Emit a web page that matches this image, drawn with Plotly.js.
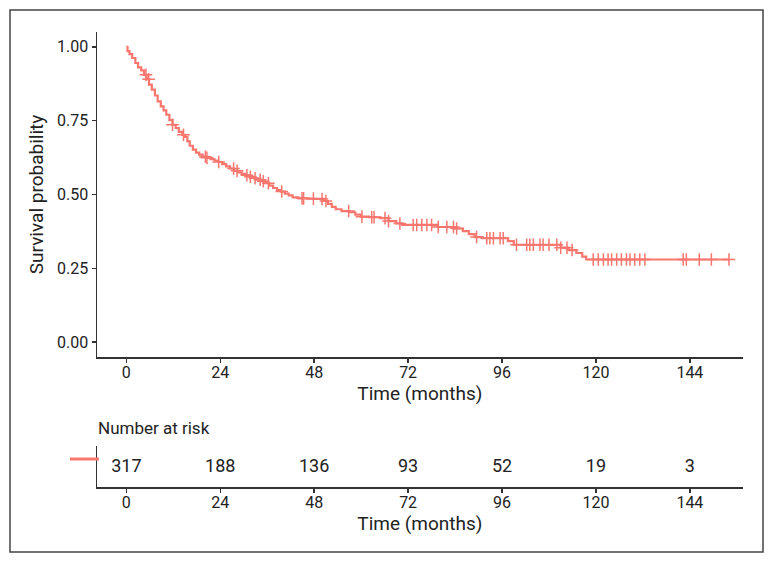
<!DOCTYPE html>
<html>
<head>
<meta charset="utf-8">
<script src="https://cdn.plot.ly/plotly-3.0.1.min.js"></script>
<style>html,body{margin:0;padding:0;background:#fff;}#chart{width:774px;height:564px;}</style>
</head>
<body>
<div id="chart"></div>
<script>
// Kaplan-Meier step points (time in months, survival probability)
const stepTime = [0, 0.3, 0.8, 1.5, 2.3, 3.0, 3.8, 4.5, 5.2, 5.8, 6.5, 7.3, 8.0, 8.8, 9.5, 10.2, 11.0, 11.8, 12.6, 13.4, 14.3, 15.0, 15.6, 16.2, 17.0, 17.8, 18.6, 19.5, 20.5, 21.5, 22.5, 23.5, 24.5, 25.5, 26.5, 27.5, 28.5, 29.5, 30.5, 31.5, 32.5, 33.5, 34.5, 35.5, 36.5, 37.5, 38.5, 39.5, 40.5, 41.5, 42.5, 44.0, 46.0, 48.0, 50.5, 51.5, 52.5, 53.5, 55.0, 57.0, 58.5, 60.0, 62.0, 65.0, 67.0, 69.0, 70.5, 79.5, 84.0, 86.0, 87.5, 89.0, 91.0, 97.5, 99.0, 111.0, 113.0, 115.0, 116.5, 117.5, 154.0];
const stepSurv = [1.0, 0.985, 0.975, 0.962, 0.945, 0.93, 0.92, 0.905, 0.89, 0.872, 0.855, 0.835, 0.815, 0.798, 0.785, 0.77, 0.752, 0.736, 0.725, 0.712, 0.702, 0.695, 0.68, 0.665, 0.652, 0.642, 0.635, 0.628, 0.624, 0.62, 0.615, 0.61, 0.603, 0.595, 0.588, 0.58, 0.575, 0.57, 0.565, 0.56, 0.555, 0.55, 0.545, 0.538, 0.53, 0.522, 0.515, 0.51, 0.503, 0.497, 0.49, 0.487, 0.486, 0.485, 0.478, 0.468, 0.458, 0.45, 0.444, 0.44, 0.432, 0.425, 0.423, 0.42, 0.41, 0.402, 0.397, 0.39, 0.385, 0.376, 0.366, 0.356, 0.352, 0.342, 0.33, 0.32, 0.312, 0.302, 0.29, 0.28, 0.28];
// Censoring times (months)
const censorTime = [5.0, 5.7, 11.8, 14.6, 20.2, 20.6, 23.6, 27.4, 28.3, 30.8, 31.7, 32.9, 34.2, 35.0, 36.3, 39.7, 44.9, 45.3, 47.8, 50.0, 51.0, 56.8, 60.2, 62.7, 63.3, 66.1, 67.0, 69.9, 73.3, 74.2, 75.5, 76.8, 78.0, 79.7, 81.9, 83.6, 84.4, 89.5, 92.1, 92.9, 93.8, 95.5, 96.3, 99.7, 102.3, 103.1, 104.0, 105.7, 106.5, 108.0, 110.0, 111.0, 112.6, 113.9, 119.3, 120.6, 121.9, 123.1, 124.0, 125.3, 126.5, 127.8, 128.7, 129.9, 131.2, 132.5, 142.3, 143.1, 146.4, 149.5, 154.0];
// Risk table
const riskTime = [0, 24, 48, 72, 96, 120, 144];
const riskCount = [317, 188, 136, 93, 52, 19, 3];
const xTicks = [0, 24, 48, 72, 96, 120, 144];
const yTicks = [0, 0.25, 0.5, 0.75, 1.0];
const yTickText = ["0.00", "0.25", "0.50", "0.75", "1.00"];

// survival value at a censoring time = last step at or before it
function survAt(t) {
  let s = stepSurv[0];
  for (let i = 0; i < stepTime.length; i++) { if (stepTime[i] <= t) s = stepSurv[i]; else break; }
  return s;
}
const censorSurv = censorTime.map(survAt);

const RED = '#F8766D';
const TXT = '#222222';
const AX = '#333333';
const FONT = 'Roboto, Arial, sans-serif';

const traces = [
  {x: stepTime, y: stepSurv, type: 'scatter', mode: 'lines', line: {shape: 'hv', color: RED, width: 2.2}, xaxis: 'x', yaxis: 'y', hoverinfo: 'skip'},
  {x: censorTime, y: censorSurv, type: 'scatter', mode: 'markers', marker: {symbol: 'cross-thin-open', size: 9, color: RED, line: {color: RED, width: 1.5}}, xaxis: 'x', yaxis: 'y'},
  {x: riskTime, y: riskTime.map(() => 0.48), text: riskCount.map(String), type: 'scatter', mode: 'text', textposition: 'middle center', textfont: {family: FONT, size: 18, color: TXT}, xaxis: 'x2', yaxis: 'y2'}
];

const W = 774, H = 564;
const axisCommon = {
  showline: true, linecolor: AX, linewidth: 1.5, ticks: 'outside', ticklen: 4, tickwidth: 1.5, tickcolor: AX,
  showgrid: false, zeroline: false, tickfont: {family: FONT, size: 16, color: TXT}, fixedrange: true
};
const xDom = [97 / W, 742.7 / W];
const layout = {
  width: W, height: H, showlegend: false,
  margin: {l: 0, r: 0, t: 0, b: 0},
  paper_bgcolor: '#ffffff', plot_bgcolor: '#ffffff',
  font: {family: FONT, color: TXT},
  xaxis: Object.assign({}, axisCommon, {domain: xDom, range: [-7.5, 157.5], tickvals: xTicks, anchor: 'y', ticklabelstandoff: -4,
    title: {text: 'Time (months)', font: {family: FONT, size: 19, color: TXT}, standoff: 2}}),
  yaxis: Object.assign({}, axisCommon, {domain: [1 - 357 / H, 1 - 32 / H], range: [-0.05, 1.05], tickvals: yTicks, ticktext: yTickText, anchor: 'x',
    title: {text: 'Survival probability', font: {family: FONT, size: 19, color: TXT}, standoff: 8}}),
  xaxis2: Object.assign({}, axisCommon, {domain: xDom, range: [-7.5, 157.5], tickvals: xTicks, anchor: 'y2', ticklabelstandoff: -4,
    title: {text: 'Time (months)', font: {family: FONT, size: 19, color: TXT}, standoff: 2}}),
  yaxis2: Object.assign({}, axisCommon, {domain: [1 - 487 / H, 1 - 446 / H], range: [0, 1], anchor: 'x2', showticklabels: false, ticks: ''}),
  shapes: [
    {type: 'rect', xref: 'paper', yref: 'paper', x0: 10 / W, x1: 763 / W, y0: 1 - 552 / H, y1: 1 - 10 / H, line: {color: '#444444', width: 1.5}},
    {type: 'line', xref: 'paper', yref: 'paper', x0: 70 / W, x1: 99 / W, y0: 1 - 459 / H, y1: 1 - 459 / H, line: {color: RED, width: 3}}
  ],
  annotations: [
    {text: 'Number at risk', xref: 'paper', yref: 'paper', x: 96 / W, y: 1 - 428 / H, xanchor: 'left', yanchor: 'middle', showarrow: false, font: {family: FONT, size: 17, color: TXT}}
  ]
};
Plotly.newPlot('chart', traces, layout, {displayModeBar: false, staticPlot: true});
</script>
</body>
</html>
